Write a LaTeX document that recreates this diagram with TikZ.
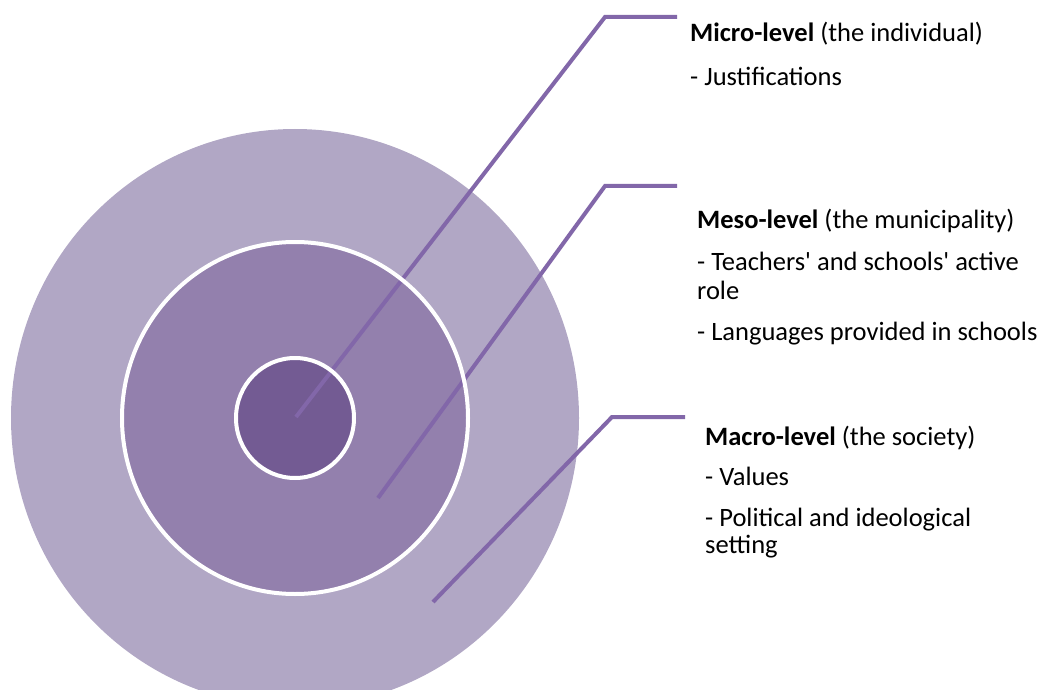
\documentclass[tikz,border=0pt]{standalone}
\usepackage{fontspec}
\setmainfont{Carlito}

\definecolor{outerring}{HTML}{B1A7C5}
\definecolor{middlering}{HTML}{9380AD}
\definecolor{innerring}{HTML}{735B93}
\definecolor{leader}{HTML}{8267A9}

\begin{document}
\begin{tikzpicture}[x=1pt, y=-1pt,
  leaderline/.style={leader, line width=4pt},
  ringline/.style={white, line width=4pt},
  leveltext/.style={anchor=base west, inner sep=0pt, font=\fontsize{26.5}{30}\selectfont}]

\clip (0,0) rectangle (1042,690);

% Draw the three levels as filled discs
\fill [outerring]  (295,418) ellipse (284pt and 289pt);
\fill [middlering] (295,418) ellipse (173pt and 176pt);
\fill [innerring]  (295,418) ellipse (59pt and 60pt);

% Leader lines from each level to its text
\coordinate (microstart) at (296,417);
\coordinate (microbend)  at (605,17);
\coordinate (microend)   at (677,17);
\coordinate (mesostart)  at (378,498);
\coordinate (mesobend)   at (605,186);
\coordinate (mesoend)    at (677,186);
\coordinate (macrostart) at (433,602);
\coordinate (macrobend)  at (612,417);
\coordinate (macroend)   at (685,417);

\draw [leaderline] (microstart) -- (microbend) -- (microend);
\draw [leaderline] (mesostart) -- (mesobend) -- (mesoend);
\draw [leaderline] (macrostart) -- (macrobend) -- (macroend);

% White borders go over the lines
\draw [ringline] (295,418) ellipse (173pt and 176pt);
\draw [ringline] (295,418) ellipse (59pt and 60pt);

% Texts
\node [leveltext] (microhead) at (690,42) {\textbf{Micro-level} (the individual)};
\node [leveltext] (microitem) at (690,86) {- Justifications};

\node [leveltext] (mesohead)  at (697,229) {\textbf{Meso-level} (the municipality)};
\node [leveltext] (mesoitema) at (697,270) {- Teachers\textquotesingle{} and schools\textquotesingle{} active};
\node [leveltext] (mesoitemb) at (697,299) {role};
\node [leveltext] (mesoitemc) at (697,340) {- Languages provided in schools};

\node [leveltext] (macrohead)  at (705,445) {\textbf{Macro-level} (the society)};
\node [leveltext] (macroitema) at (705,485) {- Values};
\node [leveltext] (macroitemb) at (705,526) {- Political and ideological};
\node [leveltext] (macroitemc) at (705,553) {setting};

\end{tikzpicture}
\end{document}
